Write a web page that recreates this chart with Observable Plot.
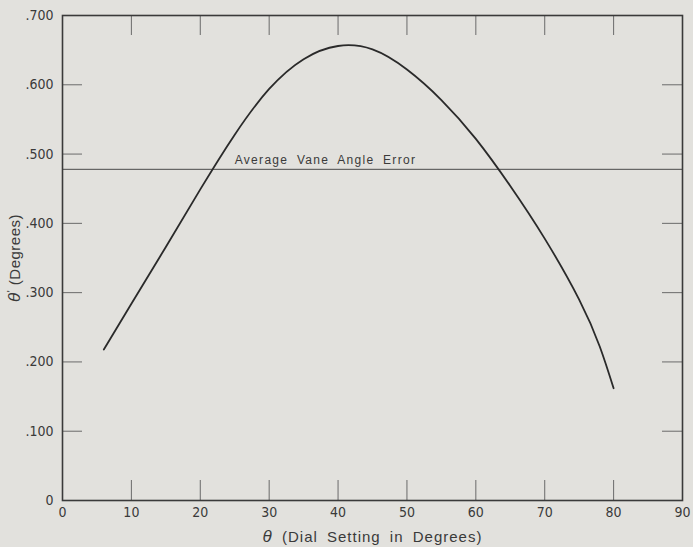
<!DOCTYPE html>
<html><head><meta charset="utf-8">
<script src="https://cdn.jsdelivr.net/npm/d3@7"></script>
<script src="https://cdn.jsdelivr.net/npm/@observablehq/plot@0.6"></script>
<style>
html,body{margin:0;padding:0;background:#e2e1dd;}
#chart svg{display:block}
</style></head><body><div id="chart"></div>
<script>
// ---- data ----
const dialSetting = [6, 10, 15, 20, 25, 30, 35, 40, 45, 50, 55, 60, 65, 70, 75, 78, 80];
const vaneError = [0.218, 0.284, 0.366, 0.449, 0.528, 0.594, 0.637, 0.656, 0.651, 0.622, 0.578, 0.522, 0.454, 0.378, 0.290, 0.222, 0.162];
const averageError = 0.478;
const averageLabel = "Average Vane Angle Error";
const averageLabelX = 25;
const xTicks = [0, 10, 20, 30, 40, 50, 60, 70, 80, 90];
const xTickLabels = ["0", "10", "20", "30", "40", "50", "60", "70", "80", "90"];
const yTicks = [0, 0.1, 0.2, 0.3, 0.4, 0.5, 0.6, 0.7];
const yTickLabels = ["0", ".100", ".200", ".300", ".400", ".500", ".600", ".700"];
const innerXTicks = [10, 20, 30, 40, 50, 60, 70, 80];
const innerYTicks = [0.1, 0.2, 0.3, 0.4, 0.5, 0.6];
const xTitle = "θ (Dial Setting in Degrees)";
const yTitle = "θ' (Degrees)";

// ---- layout ----
const W = 693, H = 547, mL = 62, mR = 11, mT = 15, mB = 47;
const pw = W - mL - mR, ph = H - mT - mB, tickLen = 20;
const curve = dialSetting.map((x, i) => ({x, y: vaneError[i]}));
const numFont = "'Liberation Sans Narrow','DejaVu Sans Condensed',sans-serif";
const txtFont = "'Liberation Sans','DejaVu Sans',sans-serif";

const chart = Plot.plot({
  width: W, height: H,
  marginLeft: mL, marginRight: mR, marginTop: mT, marginBottom: mB,
  style: {background: "transparent", fontFamily: numFont, fontSize: "14px", color: "#3a3a3a"},
  x: {domain: [0, 90]},
  y: {domain: [0, 0.7]},
  marks: [
    Plot.axisX({ticks: xTicks, tickSize: 0, tickPadding: 7, tickFormat: d => xTickLabels[xTicks.indexOf(d)], label: null, fontSize: 14, fill: "#3a3a3a"}),
    Plot.axisY({ticks: yTicks, tickSize: 0, tickPadding: 9, tickFormat: d => yTickLabels[yTicks.indexOf(d)], label: null, fontSize: 14, fill: "#3a3a3a"}),
    Plot.tickX(innerXTicks, {x: d => d, insetTop: ph - tickLen, stroke: "#6a6a6a", strokeWidth: 1}),
    Plot.tickX(innerXTicks, {x: d => d, insetBottom: ph - tickLen, stroke: "#6a6a6a", strokeWidth: 1}),
    Plot.tickY(innerYTicks, {y: d => d, insetRight: pw - tickLen, stroke: "#6a6a6a", strokeWidth: 1}),
    Plot.tickY(innerYTicks, {y: d => d, insetLeft: pw - tickLen, stroke: "#6a6a6a", strokeWidth: 1}),
    Plot.ruleY([averageError], {stroke: "#4a4a4a", strokeWidth: 1}),
    Plot.text([averageLabel], {x: averageLabelX, y: averageError, text: d => d, textAnchor: "start", dy: -9, fontSize: 12, fill: "#3a3a3a", fontFamily: txtFont}),
    Plot.line(curve, {x: "x", y: "y", curve: "natural", stroke: "#2a2a2a", strokeWidth: 1.8}),
    Plot.frame({stroke: "#3a3a3a", strokeWidth: 1.6}),
    Plot.text([xTitle], {frameAnchor: "bottom", textAnchor: "middle", lineAnchor: "middle", dy: 37, text: d => d, fontSize: 15, fill: "#3a3a3a", fontFamily: txtFont}),
    Plot.text([yTitle], {frameAnchor: "left", textAnchor: "middle", lineAnchor: "middle", dx: -47, rotate: -90, text: d => d, fontSize: 15, fill: "#3a3a3a", fontFamily: txtFont})
  ]
});

d3.select(chart).selectAll("text").each(function() {
  const t = this.textContent;
  const sel = d3.select(this);
  if (t === xTitle) {
    sel.text("").style("letter-spacing", "1px").style("word-spacing", "4px");
    sel.append("tspan").attr("font-style", "italic").attr("font-size", 17).text("θ");
    sel.append("tspan").text(xTitle.slice(1));
  } else if (t === yTitle) {
    sel.text("").style("letter-spacing", "0.5px");
    sel.append("tspan").attr("font-style", "italic").attr("font-size", 17).text("θ");
    sel.append("tspan").attr("baseline-shift", "super").attr("font-size", 10).text("'");
    sel.append("tspan").text(yTitle.slice(2));
  } else if (t === averageLabel) {
    sel.style("letter-spacing", "1.3px").style("word-spacing", "4px");
  }
});

document.getElementById("chart").appendChild(chart);
</script>
</body></html>
